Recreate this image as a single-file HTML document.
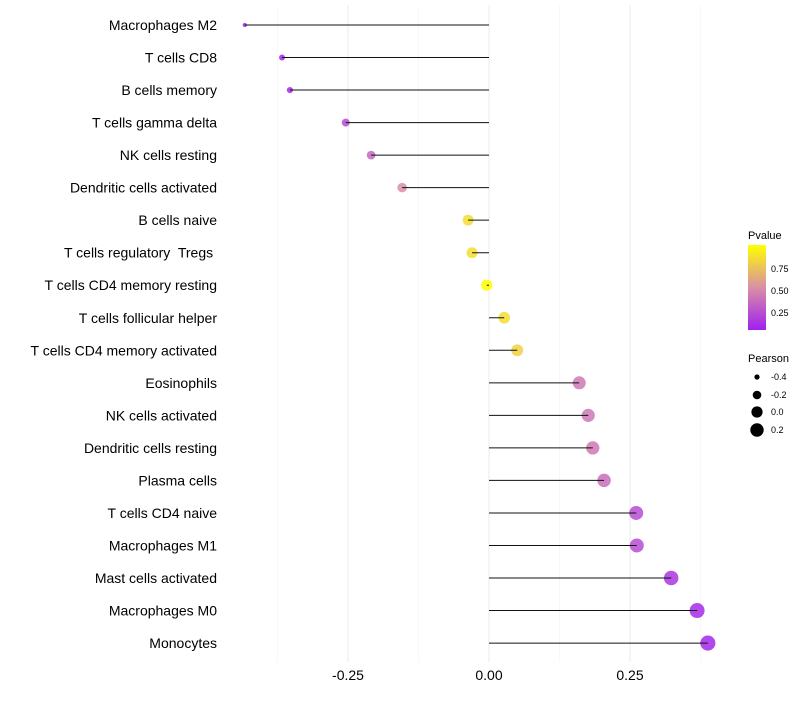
<!DOCTYPE html>
<html><head><meta charset="utf-8"><style>
body{margin:0;background:#fff;font-family:"Liberation Sans",sans-serif}
</style></head><body>
<svg id="chart" width="800" height="700" xmlns="http://www.w3.org/2000/svg">
<defs><linearGradient id="pg" x1="0" y1="1" x2="0" y2="0">
<stop offset="0" stop-color="#A020F0"/><stop offset="0.5" stop-color="#D98FA5"/><stop offset="1" stop-color="#FFFF00"/></linearGradient></defs>
<g id="grid"></g><g id="marks"></g><g id="labels"></g>
<g>
<text x="748" y="239" font-size="11" fill="#000">Pvalue</text>
<rect x="748" y="245" width="18" height="85" fill="url(#pg)"/>
<text x="771" y="272" font-size="9">0.75</text>
<text x="771" y="294" font-size="9">0.50</text>
<text x="771" y="316" font-size="9">0.25</text>
</g>
<g>
<text x="748" y="362" font-size="11">Pearson</text>
<circle cx="757" cy="377" r="2.6"/><text x="771" y="380" font-size="9">-0.4</text>
<circle cx="757" cy="395" r="4.3"/><text x="771" y="398" font-size="9">-0.2</text>
<circle cx="757" cy="412" r="5.6"/><text x="771" y="415" font-size="9">0.0</text>
<circle cx="757" cy="430" r="6.7"/><text x="771" y="433" font-size="9">0.2</text>
</g>
</svg>
<script>
const categories=["Macrophages M2","T cells CD8","B cells memory","T cells gamma delta","NK cells resting","Dendritic cells activated","B cells naive","T cells regulatory  Tregs ","T cells CD4 memory resting","T cells follicular helper","T cells CD4 memory activated","Eosinophils","NK cells activated","Dendritic cells resting","Plasma cells","T cells CD4 naive","Macrophages M1","Mast cells activated","Macrophages M0","Monocytes"];
const pearson=[-0.433,-0.367,-0.353,-0.254,-0.209,-0.154,-0.037,-0.030,-0.004,0.027,0.050,0.160,0.176,0.184,0.204,0.261,0.262,0.323,0.369,0.388];
const pvalue=[0.02,0.03,0.04,0.2,0.33,0.5,0.85,0.85,1.0,0.85,0.8,0.4,0.4,0.4,0.35,0.2,0.2,0.1,0.05,0.03];
const tickVals=[-0.25,0,0.25];
const tickLabels=["-0.25","0.00","0.25"];
const ns="http://www.w3.org/2000/svg";
const X=v=>489+v*564;
const Y=i=>25+i*32.53;
const R=v=>Math.sqrt(Math.max(3,32.3+64*v));
function mk(t,a,p){const e=document.createElementNS(ns,t);for(const k in a)e.setAttribute(k,a[k]);p.appendChild(e);return e;}
function col(p){const s=[[160,32,240],[217,143,165],[255,255,0]];let a,b,t;if(p<0.5){a=s[0];b=s[1];t=p/0.5}else{a=s[1];b=s[2];t=(p-0.5)/0.5}
return "rgb("+a.map((c,i)=>Math.round(c+(b[i]-c)*t)).join(",")+")";}
const grid=document.getElementById('grid'),marks=document.getElementById('marks'),labels=document.getElementById('labels');
for(let v=-0.375;v<=0.376;v+=0.125){const major=tickVals.some(t=>Math.abs(t-v)<1e-6);
const g=mk('line',{x1:X(v),x2:X(v),y1:5,y2:662,stroke:major?'#ebebeb':'#f4f4f4','stroke-width':major?1:0.6},grid);

}
tickVals.forEach((v,i)=>{const t=mk('text',{x:X(v),y:680,'font-size':14,'text-anchor':'middle',fill:'#000'},labels);t.textContent=tickLabels[i];

});
categories.forEach((c,i)=>{const y=Y(i);
const t=mk('text',{x:217,y:y+5,'font-size':14,'text-anchor':'end',fill:'#000',style:'white-space:pre'},labels);t.textContent=c;


const d=mk('circle',{cx:X(pearson[i]),cy:y,r:R(pearson[i]),fill:col(pvalue[i]),'fill-opacity':0.85},marks);


const l=mk('line',{x1:X(0),x2:X(pearson[i]),y1:y,y2:y,stroke:'#111','stroke-width':1},marks);

});
</script>
</body></html>
